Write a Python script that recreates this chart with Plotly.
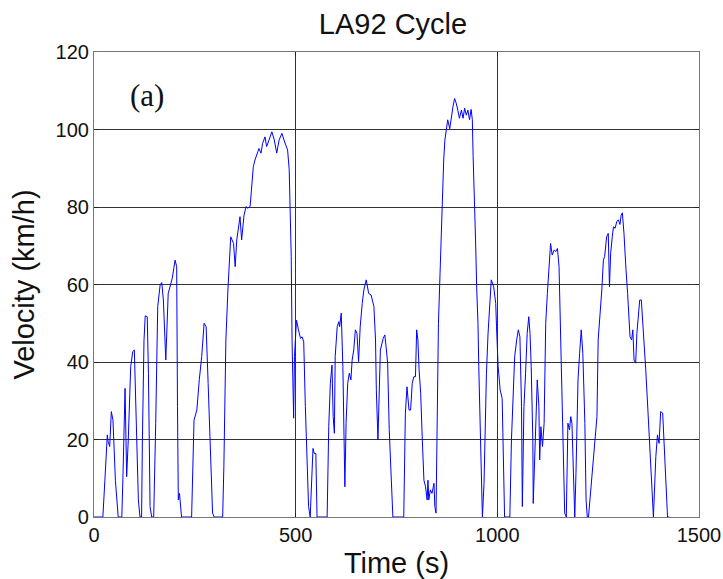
import plotly.graph_objects as go

# LA92 cycle
time_s = [0, 22, 27, 31, 33, 35, 39, 43, 47, 50, 53, 60, 69, 72, 77, 81, 85, 91, 96, 100, 104, 110, 114,
          118, 120, 124, 127, 132, 135, 139, 143, 148, 153, 158, 164, 168, 172, 178, 184, 188, 194, 201, 205,
          207, 209, 212, 215, 217, 225, 242, 248, 255, 261, 267, 273, 278, 283, 289, 294, 298, 319, 322, 327,
          332, 336, 339, 346, 350, 354, 358, 362, 366, 372, 377, 381, 387, 391, 395, 399, 404, 409, 414, 418,
          424, 428, 434, 441, 447, 453, 459, 466, 471, 476, 480, 484, 486, 489, 491, 493, 495, 497, 502, 507,
          512, 516, 520, 524, 528, 532, 536, 541, 543, 546, 550, 553, 578, 582, 586, 590, 593, 596, 598, 603,
          607, 609, 613, 617, 619, 622, 625, 629, 633, 637, 640, 644, 648, 652, 656, 660, 665, 669, 675, 681,
          687, 694, 698, 700, 704, 706, 710, 717, 721, 725, 728, 732, 737, 741, 768, 772, 776, 781, 785, 789,
          793, 797, 800, 803, 806, 810, 814, 818, 822, 826, 828, 830, 834, 838, 843, 845, 848, 851, 854, 858,
          861, 864, 867, 870, 873, 877, 882, 886, 890, 894, 898, 902, 906, 911, 915, 919, 923, 927, 931, 935,
          938, 940, 943, 946, 949, 952, 954, 957, 960, 963, 967, 970, 973, 977, 981, 985, 991, 996, 998, 1002,
          1007, 1011, 1012, 1018, 1031, 1035, 1039, 1043, 1048, 1052, 1056, 1060, 1062, 1066, 1070, 1074, 1078,
          1081, 1084, 1088, 1089, 1093, 1099, 1103, 1105, 1108, 1112, 1116, 1120, 1124, 1128, 1132, 1136, 1141,
          1145, 1149, 1153, 1157, 1160, 1163, 1167, 1171, 1175, 1179, 1182, 1185, 1189, 1192, 1195, 1200, 1204,
          1208, 1212, 1217, 1220, 1223, 1226, 1247, 1250, 1255, 1259, 1263, 1266, 1271, 1275, 1278, 1281, 1285,
          1288, 1292, 1296, 1300, 1304, 1307, 1310, 1314, 1317, 1319, 1323, 1326, 1329, 1333, 1336, 1339, 1343,
          1346, 1349, 1353, 1357, 1364, 1368, 1372, 1377, 1382, 1387, 1393, 1397, 1401, 1405, 1410, 1414, 1418,
          1422, 1426, 1435]
velocity_kmh = [0, 0, 9.5, 19.0, 21.2, 19.5, 18.2, 27.2, 25.0, 17.3, 9.5, 0, 0, 11.3, 33.2, 10.4, 19.9, 38.8,
                42.7, 43.1, 28.5, 4.4, 0, 0, 19.9, 45.7, 51.9, 51.7, 37.1, 2.7, 0, 0, 24.2, 54.3, 59.9, 60.5,
                56.0, 40.5, 57.7, 59.4, 61.6, 66.3, 64.6, 28.5, 4.4, 6.1, 1.0, 0, 0, 0, 25.0, 27.6, 35.4, 41.4,
                50.0, 49.1, 34.5, 15.6, 1.0, 0, 0, 13.0, 45.7, 58.6, 67.2, 72.3, 70.6, 64.6, 71.5, 74.9, 77.5,
                71.5, 77.9, 80.1, 79.7, 80.1, 86.1, 90.4, 92.1, 93.4, 95.1, 93.9, 96.4, 98.1, 95.6, 97.3, 99.4,
                97.3, 93.9, 97.3, 99.0, 97.3, 96.0, 94.7, 89.6, 81.8, 67.2, 45.7, 32.8, 25.5, 41.4, 50.8, 48.3,
                46.1, 46.5, 45.2, 28.5, 15.6, 2.7, 0, 14.7, 17.7, 16.4, 16.4, 0, 0, 23.3, 34.5, 39.2, 25.9, 21.6,
                41.4, 49.1, 50.4, 49.1, 52.6, 38.8, 19.9, 7.8, 24.2, 34.5, 37.1, 35.4, 40.5, 43.1, 48.3, 47.4,
                40.1, 49.1, 55.1, 58.6, 61.2, 57.7, 57.3, 54.3, 45.7, 32.8, 19.9, 29.3, 43.1, 46.1, 47.0, 43.1,
                39.7, 22.5, 11.3, 0, 0, 26.8, 33.6, 27.6, 27.6, 34.5, 36.2, 36.2, 48.3, 45.7, 38.0, 31.9, 19.9,
                9.5, 7.8, 4.4, 9.5, 4.4, 7.0, 6.1, 8.7, 2.7, 1.0, 24.2, 50.0, 62.9, 74.9, 84.4, 92.1, 97.3, 99.9,
                102.5, 100.2, 103.7, 105.9, 108.0, 106.8, 105.0, 102.9, 105.0, 102.9, 105.5, 103.7, 105.0, 102.5,
                105.2, 102.5, 93.0, 78.4, 71.5, 58.6, 50.0, 38.8, 24.2, 11.3, 0, 8.7, 24.2, 37.1, 47.4, 56.0, 61.2,
                59.4, 55.1, 49.1, 38.8, 32.8, 30.6, 30.6, 0, 0, 19.9, 30.2, 41.4, 45.7, 48.3, 46.5, 28.5, 2.7,
                28.5, 37.1, 47.4, 51.7, 47.4, 38.8, 19.9, 3.5, 15.6, 35.4, 28.5, 14.7, 23.3, 18.2, 24.2, 50.0,
                57.7, 64.6, 70.6, 67.6, 68.9, 68.5, 69.3, 64.6, 45.7, 28.5, 11.3, 1.0, 0, 24.2, 22.5, 25.9, 24.2,
                7.0, 0, 11.3, 35.4, 42.2, 48.3, 42.2, 24.2, 4.4, 0, 0, 25.9, 45.7, 52.6, 58.6, 66.3, 67.2, 72.3,
                73.2, 59.4, 68.1, 72.3, 74.9, 74.5, 76.2, 76.7, 75.5, 77.9, 78.5, 73.2, 65.5, 63.8, 57.7, 51.7,
                46.5, 45.7, 48.3, 40.5, 39.7, 47.4, 51.7, 56.0, 56.0, 45.7, 38.0, 30.2, 19.9, 8.7, 0, 15.6, 21.2,
                19.0, 27.2, 26.8, 17.3, 8.7, 0, 0]

x_ticks = [0, 500, 1000, 1500]
y_ticks = [0, 20, 40, 60, 80, 100, 120]

FONT = "Liberation Sans, Arial, sans-serif"

fig = go.Figure()
fig.add_trace(go.Scatter(x=time_s, y=velocity_kmh, mode="lines",
                         line=dict(color="#0000ff", width=1), showlegend=False))

fig.update_layout(
    width=723, height=579,
    margin=dict(l=94, r=24, t=52, b=62, autoexpand=False),
    paper_bgcolor="white", plot_bgcolor="white",
    title=dict(text="LA92 Cycle", x=393 / 723, xanchor="center", y=1 - 24 / 579, yanchor="middle",
               yref="container", font=dict(family=FONT, size=29, color="#111")),
    font=dict(family=FONT, color="#111"),
)
fig.update_xaxes(
    range=[0, 1500], tickvals=x_ticks, ticktext=[str(v) for v in x_ticks],
    showgrid=True, gridcolor="#333", gridwidth=1.2,
    showline=True, linecolor="#777", linewidth=1.2, mirror="ticks",
    ticks="inside", ticklen=4, tickcolor="#222",
    tickfont=dict(size=20, family=FONT), zeroline=False, automargin=False,
    title=dict(text="Time (s)", font=dict(size=29, family=FONT), standoff=8),
)
fig.update_yaxes(
    range=[0, 120], tickvals=y_ticks, ticktext=[str(v) for v in y_ticks],
    showgrid=True, gridcolor="#333", gridwidth=1.2,
    showline=True, linecolor="#777", linewidth=1.2, mirror="ticks",
    ticks="inside", ticklen=4, tickcolor="#222",
    tickfont=dict(size=20, family=FONT), zeroline=False, automargin=False,
    title=dict(text="Velocity (km/h)", font=dict(size=29, family=FONT), standoff=12),
)
fig.add_annotation(text="(a)", x=(147 - 94) / 605, y=(517 - 95) / 465, xref="paper", yref="paper",
                   xanchor="center", yanchor="middle", showarrow=False,
                   font=dict(family="Liberation Serif, Times New Roman, serif", size=31, color="#111"))

fig.write_html("out.html")
